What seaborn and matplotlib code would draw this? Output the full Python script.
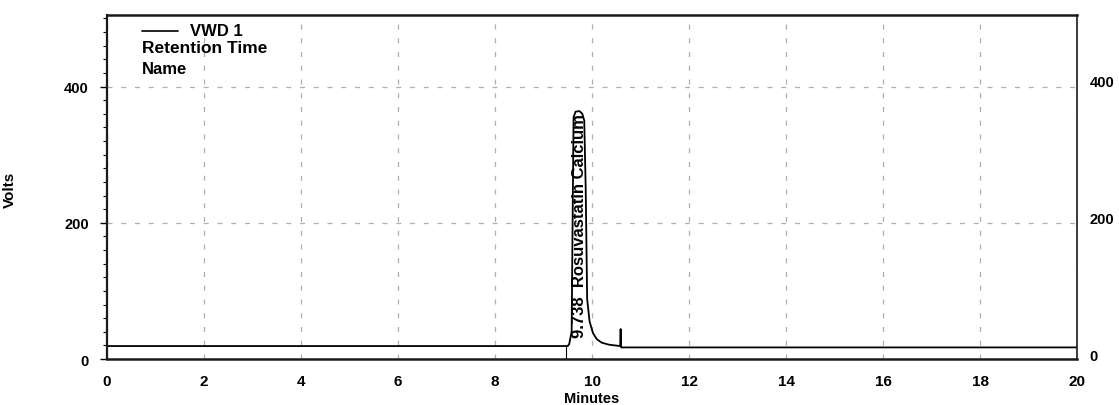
import numpy as np
import pandas as pd
import matplotlib
matplotlib.use("Agg")
import matplotlib.pyplot as plt
import seaborn as sns
from matplotlib.ticker import MultipleLocator, FixedLocator

# ---- data ----
time_min = [0.0, 9.50, 9.53, 9.58, 9.60, 9.62, 9.66, 9.74, 9.80, 9.84, 9.87,
            9.90, 9.95, 10.02, 10.10, 10.20, 10.35, 10.58, 10.59, 10.60, 20.0]
volts = [19, 19, 22, 40, 200, 355, 363, 364, 360, 350, 250,
         88, 55, 38, 29, 24, 21, 19, 44, 17, 17]
marker_times = [9.47]
marker_low, marker_high = 0, 20
peak_rt = 9.738
peak_name = "Rosuvastatin Calcium"
x_ticks = list(range(0, 21, 2))
y_ticks = [0, 200, 400]
legend_lines = ["VWD 1", "Retention Time", "Name"]

df = pd.DataFrame({"Minutes": time_min, "Volts": volts})

sns.set_style("white")
plt.rcParams['font.family'] = ['Liberation Sans', 'DejaVu Sans']
plt.rcParams['text.color'] = 'black'
plt.rcParams['xtick.color'] = 'black'
plt.rcParams['ytick.color'] = 'black'
plt.rcParams['axes.labelcolor'] = 'black'

fig = plt.figure(figsize=(11.19, 4.06), dpi=100)
ax = fig.add_axes([0.0956, 0.1133, 0.8669, 0.8473])

sns.lineplot(data=df, x="Minutes", y="Volts", ax=ax, color="black",
             linewidth=1.3, estimator=None, sort=False)
ax.vlines(marker_times, marker_low, marker_high, color="black", linewidth=0.8)

ax.set_xlim(0, 20)
ax.set_ylim(0, 505)
ax.xaxis.set_major_locator(FixedLocator(x_ticks))
ax.yaxis.set_major_locator(FixedLocator(y_ticks))
ax.yaxis.set_minor_locator(MultipleLocator(20))
ax.set_xticklabels([str(t) for t in x_ticks], fontweight="bold", fontsize=11)
ax.set_yticklabels([str(t) for t in y_ticks], fontweight="bold", fontsize=10.5)
ax.tick_params(axis="y", which="major", length=5, width=1, pad=8, left=True)
ax.tick_params(axis="y", which="minor", length=3, width=0.8, left=True)
ax.tick_params(axis="x", which="major", length=0, pad=11)

ax.grid(True, which="major", color="#b3abb5", linestyle=(0, (4, 7)), linewidth=0.9)
for side in ["left", "bottom", "top", "right"]:
    ax.spines[side].set_visible(True)
    ax.spines[side].set_color("#1a1a1a")
ax.spines["left"].set_linewidth(1.6)
ax.spines["bottom"].set_linewidth(1.8)
ax.spines["top"].set_linewidth(1.8)
ax.spines["right"].set_linewidth(1.2)

ax.set_xlabel("Minutes", fontweight="bold", fontsize=10.5, labelpad=2)
ax.set_ylabel("Volts", fontweight="bold", fontsize=11)
ax.yaxis.set_label_coords(-0.093, 0.494)

ax2 = ax.twinx()
ax2.set_ylim(-6, 496)
ax2.yaxis.set_major_locator(FixedLocator(y_ticks))
ax2.set_yticklabels([str(t) for t in y_ticks], fontweight="bold", fontsize=10.5)
ax2.tick_params(axis="y", length=0, pad=9)
ax2.grid(False)
for side in ["left", "bottom", "top", "right"]:
    ax2.spines[side].set_visible(False)

# peak annotation
ax.text(peak_rt, 32, f"{peak_rt:.3f}  {peak_name}", rotation=90,
        ha="center", va="bottom", fontsize=12, fontweight="bold")

# legend block
ax.plot([0.72, 1.47], [482, 482], color="black", linewidth=1.2)
ax.text(1.71, 482, legend_lines[0], fontsize=12, fontweight="bold", va="center")
ax.text(0.72, 457, legend_lines[1], fontsize=12.5, fontweight="bold", va="center")
ax.text(0.72, 426, legend_lines[2], fontsize=12, fontweight="bold", va="center")

fig.savefig("out.png", dpi=100)
